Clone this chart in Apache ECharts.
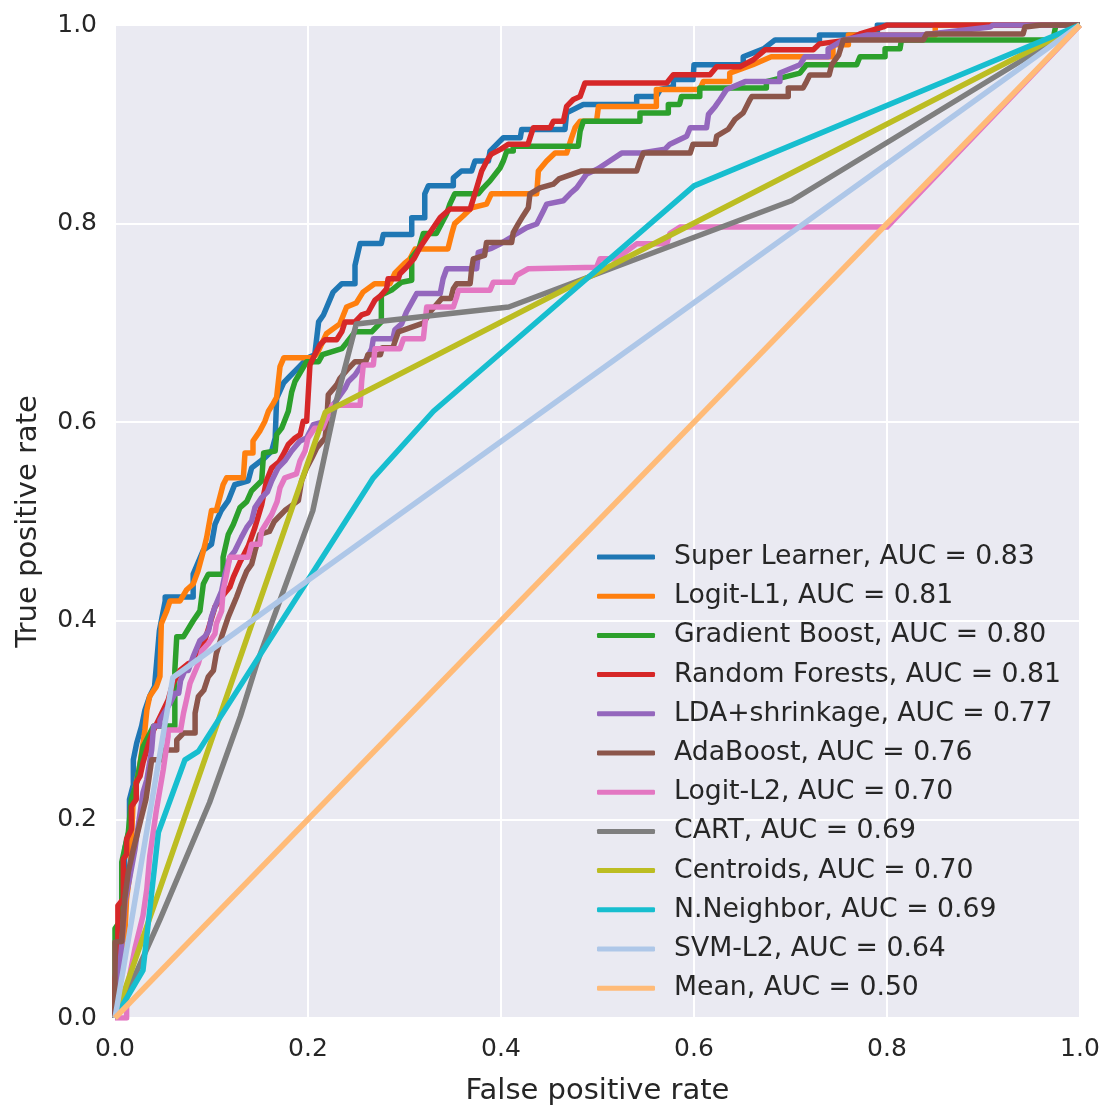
<!DOCTYPE html>
<html>
<head>
<meta charset="utf-8">
<script src="https://cdn.jsdelivr.net/npm/echarts@6/dist/echarts.min.js"></script>
<style>
html,body{margin:0;padding:0;background:#fff;}
#chart{width:1109px;height:1111px;}
</style>
</head>
<body>
<div id="chart"></div>
<script>
// ---- Data (FPR, TPR) ----
const seriesNames = [
  'Super Learner, AUC = 0.83','Logit-L1, AUC = 0.81','Gradient Boost, AUC = 0.80',
  'Random Forests, AUC = 0.81','LDA+shrinkage, AUC = 0.77','AdaBoost, AUC = 0.76',
  'Logit-L2, AUC = 0.70','CART, AUC = 0.69','Centroids, AUC = 0.70',
  'N.Neighbor, AUC = 0.69','SVM-L2, AUC = 0.64','Mean, AUC = 0.50'
];
const tickValues = [0, 0.2, 0.4, 0.6, 0.8, 1.0];

const superLearner = [[0,0],[0,0.03],[0.005,0.05],[0.005,0.1],[0.01,0.12],[0.01,0.17],[0.015,0.19],[0.015,0.22],[0.019,0.235],[0.019,0.26],[0.0225,0.277],[0.0276,0.294],[0.031,0.31],[0.036,0.324],[0.041,0.334],[0.046,0.39],[0.052,0.42],[0.052,0.424],[0.081,0.424],[0.081,0.447],[0.0915,0.471],[0.1,0.477],[0.1036,0.497],[0.11,0.511],[0.1174,0.521],[0.124,0.537],[0.138,0.541],[0.1416,0.554],[0.155,0.564],[0.1624,0.571],[0.166,0.584],[0.1675,0.624],[0.175,0.64],[0.18,0.645],[0.19,0.655],[0.2,0.665],[0.207,0.668],[0.211,0.701],[0.216,0.708],[0.226,0.731],[0.235,0.7395],[0.2487,0.7395],[0.2487,0.758],[0.254,0.78],[0.276,0.78],[0.278,0.789],[0.3075,0.789],[0.3075,0.806],[0.321,0.806],[0.321,0.83],[0.3247,0.838],[0.3506,0.838],[0.3506,0.846],[0.359,0.853],[0.3696,0.853],[0.373,0.863],[0.387,0.863],[0.3886,0.873],[0.4024,0.8865],[0.42,0.8865],[0.4214,0.8948],[0.4663,0.8948],[0.468,0.9115],[0.4853,0.92],[0.5406,0.92],[0.5406,0.928],[0.561,0.928],[0.565,0.935],[0.5786,0.938],[0.5786,0.945],[0.599,0.945],[0.6,0.96],[0.651,0.96],[0.651,0.968],[0.672,0.976],[0.684,0.985],[0.73,0.985],[0.73,0.99],[0.79,0.99],[0.79,1],[1,1]];

const logitL1 = [[0,0],[0.004,0.02],[0.006,0.06],[0.01,0.08],[0.012,0.12],[0.016,0.15],[0.018,0.2],[0.019,0.2234],[0.025,0.25],[0.031,0.29],[0.033,0.31],[0.036,0.324],[0.043,0.334],[0.0466,0.344],[0.048,0.397],[0.0536,0.41],[0.057,0.42],[0.0674,0.42],[0.074,0.431],[0.081,0.437],[0.086,0.45],[0.0915,0.47],[0.095,0.484],[0.1,0.511],[0.105,0.511],[0.112,0.537],[0.1157,0.544],[0.133,0.544],[0.1347,0.569],[0.143,0.569],[0.143,0.581],[0.15,0.591],[0.1554,0.601],[0.159,0.611],[0.164,0.619],[0.1675,0.625],[0.171,0.656],[0.175,0.665],[0.2055,0.665],[0.21,0.67],[0.219,0.689],[0.233,0.699],[0.24,0.716],[0.25,0.72],[0.257,0.731],[0.269,0.7395],[0.285,0.7395],[0.29,0.75],[0.3,0.76],[0.3057,0.7645],[0.311,0.7745],[0.345,0.7745],[0.349,0.79],[0.352,0.8],[0.361,0.808],[0.3696,0.816],[0.385,0.8196],[0.39,0.83],[0.437,0.83],[0.4387,0.853],[0.4473,0.863],[0.456,0.871],[0.468,0.871],[0.473,0.886],[0.4767,0.8965],[0.482,0.903],[0.499,0.903],[0.501,0.918],[0.561,0.918],[0.561,0.935],[0.606,0.935],[0.6096,0.943],[0.637,0.943],[0.637,0.9516],[0.661,0.96],[0.68,0.968],[0.744,0.968],[0.744,0.98],[0.76,0.98],[0.76,0.99],[0.85,0.99],[0.85,1],[1,1]];

const gradBoost = [[0,0],[0,0.09],[0.007,0.1],[0.007,0.157],[0.0138,0.187],[0.017,0.22],[0.0225,0.237],[0.029,0.273],[0.04,0.294],[0.062,0.294],[0.062,0.35],[0.064,0.384],[0.071,0.384],[0.081,0.4],[0.088,0.41],[0.0915,0.437],[0.0967,0.447],[0.112,0.447],[0.112,0.464],[0.1174,0.487],[0.1226,0.497],[0.1295,0.514],[0.1365,0.52],[0.1416,0.531],[0.152,0.541],[0.154,0.569],[0.166,0.571],[0.1675,0.5875],[0.1727,0.594],[0.1796,0.611],[0.183,0.63],[0.1865,0.641],[0.1986,0.661],[0.211,0.661],[0.215,0.668],[0.235,0.674],[0.24,0.68],[0.2487,0.691],[0.266,0.691],[0.276,0.701],[0.276,0.728],[0.2867,0.733],[0.297,0.741],[0.3075,0.743],[0.3075,0.766],[0.315,0.775],[0.3195,0.79],[0.333,0.79],[0.3437,0.81],[0.347,0.8196],[0.352,0.83],[0.3765,0.83],[0.3817,0.836],[0.3886,0.843],[0.399,0.856],[0.4024,0.863],[0.406,0.873],[0.4127,0.873],[0.4127,0.878],[0.48,0.878],[0.482,0.893],[0.4853,0.903],[0.544,0.903],[0.544,0.9115],[0.5734,0.9115],[0.5734,0.92],[0.585,0.92],[0.587,0.928],[0.606,0.928],[0.606,0.9365],[0.675,0.9365],[0.675,0.943],[0.7098,0.9516],[0.7166,0.96],[0.7686,0.96],[0.772,0.968],[0.798,0.968],[0.798,0.976],[0.8135,0.976],[0.815,0.985],[0.972,0.985],[0.975,1],[1,1]];

const randomForests = [[0,0],[0,0.04],[0.003,0.06],[0.003,0.113],[0.0086,0.12],[0.0086,0.16],[0.012,0.165],[0.012,0.18],[0.017,0.19],[0.017,0.213],[0.022,0.22],[0.022,0.237],[0.026,0.2435],[0.029,0.257],[0.033,0.27],[0.036,0.28],[0.04,0.29],[0.045,0.3],[0.05,0.31],[0.055,0.32],[0.06,0.337],[0.0674,0.35],[0.076,0.357],[0.085,0.36],[0.093,0.38],[0.0984,0.397],[0.1036,0.414],[0.1105,0.424],[0.119,0.434],[0.1226,0.444],[0.13,0.46],[0.138,0.475],[0.145,0.494],[0.152,0.517],[0.157,0.541],[0.1624,0.554],[0.17,0.56],[0.1744,0.5675],[0.1796,0.5775],[0.1865,0.584],[0.192,0.5875],[0.195,0.601],[0.1986,0.601],[0.2,0.624],[0.202,0.6576],[0.207,0.668],[0.2124,0.678],[0.2176,0.683],[0.2297,0.683],[0.235,0.691],[0.2383,0.701],[0.2487,0.701],[0.2556,0.708],[0.262,0.71],[0.2694,0.723],[0.276,0.728],[0.2815,0.7345],[0.283,0.7445],[0.2936,0.7445],[0.2953,0.7495],[0.302,0.756],[0.31,0.765],[0.316,0.776],[0.323,0.786],[0.33,0.796],[0.337,0.806],[0.347,0.8146],[0.368,0.8146],[0.3748,0.836],[0.38,0.853],[0.387,0.866],[0.39,0.87],[0.4,0.875],[0.4076,0.88],[0.428,0.88],[0.4335,0.8965],[0.451,0.8965],[0.4542,0.903],[0.4646,0.903],[0.468,0.918],[0.475,0.925],[0.482,0.928],[0.487,0.9416],[0.5717,0.9416],[0.5786,0.95],[0.6166,0.95],[0.6235,0.958],[0.6477,0.958],[0.6615,0.965],[0.6736,0.975],[0.7236,0.975],[0.73,0.981],[0.76,0.985],[0.772,0.991],[0.796,0.998],[0.8,1],[1,1]];

const ldaShrinkage = [[0,0],[0.005,0.05],[0.0104,0.117],[0.015,0.14],[0.0207,0.17],[0.024,0.193],[0.029,0.227],[0.033,0.24],[0.038,0.27],[0.04,0.294],[0.0466,0.294],[0.0466,0.3],[0.057,0.317],[0.0622,0.327],[0.066,0.327],[0.068,0.34],[0.0725,0.35],[0.076,0.35],[0.081,0.364],[0.088,0.38],[0.093,0.384],[0.097,0.39],[0.1,0.404],[0.1036,0.414],[0.1105,0.43],[0.114,0.447],[0.119,0.464],[0.124,0.47],[0.131,0.484],[0.1365,0.494],[0.1416,0.5007],[0.145,0.514],[0.152,0.524],[0.158,0.53],[0.1624,0.541],[0.169,0.554],[0.176,0.561],[0.183,0.571],[0.1917,0.581],[0.1986,0.584],[0.2055,0.5975],[0.215,0.6],[0.22,0.61],[0.228,0.62],[0.2383,0.634],[0.2418,0.641],[0.2487,0.6476],[0.2556,0.6576],[0.2608,0.664],[0.266,0.674],[0.2677,0.684],[0.288,0.684],[0.29,0.693],[0.297,0.699],[0.302,0.711],[0.3126,0.7295],[0.337,0.7295],[0.34,0.7445],[0.3437,0.7545],[0.3748,0.7545],[0.3765,0.771],[0.39,0.775],[0.4,0.78],[0.41,0.786],[0.4162,0.79],[0.4266,0.796],[0.437,0.7996],[0.444,0.813],[0.4473,0.8196],[0.4646,0.823],[0.4715,0.83],[0.4784,0.836],[0.4836,0.843],[0.4888,0.85],[0.5,0.855],[0.5095,0.861],[0.525,0.871],[0.544,0.871],[0.57,0.875],[0.575,0.88],[0.5924,0.888],[0.596,0.8965],[0.613,0.8965],[0.615,0.91],[0.622,0.918],[0.627,0.925],[0.6338,0.935],[0.653,0.943],[0.689,0.943],[0.689,0.9516],[0.7098,0.96],[0.715,0.968],[0.739,0.968],[0.739,0.976],[0.755,0.985],[0.78,0.99],[0.836,0.99],[0.907,0.998],[0.91,1],[1,1]];

const adaBoost = [[0,0],[0,0.0765],[0.007,0.077],[0.01,0.12],[0.0138,0.147],[0.019,0.17],[0.023,0.185],[0.0276,0.203],[0.032,0.22],[0.038,0.26],[0.05,0.26],[0.05,0.27],[0.064,0.27],[0.064,0.28],[0.071,0.287],[0.083,0.287],[0.083,0.307],[0.0864,0.3237],[0.092,0.33],[0.0967,0.3437],[0.102,0.35],[0.105,0.367],[0.1105,0.384],[0.1174,0.404],[0.126,0.424],[0.131,0.437],[0.1365,0.45],[0.1416,0.457],[0.145,0.47],[0.15,0.487],[0.16,0.49],[0.165,0.5],[0.169,0.504],[0.176,0.511],[0.19,0.521],[0.1934,0.541],[0.1986,0.554],[0.204,0.564],[0.209,0.574],[0.2176,0.584],[0.219,0.594],[0.221,0.6276],[0.2297,0.6376],[0.233,0.644],[0.2418,0.654],[0.2487,0.661],[0.26,0.661],[0.262,0.668],[0.275,0.668],[0.277,0.675],[0.288,0.675],[0.29,0.681],[0.2936,0.691],[0.32,0.7],[0.3264,0.711],[0.3385,0.7245],[0.348,0.7245],[0.3506,0.7345],[0.354,0.7395],[0.368,0.7395],[0.3696,0.7545],[0.3713,0.7645],[0.383,0.768],[0.385,0.781],[0.411,0.781],[0.4127,0.791],[0.418,0.8],[0.423,0.808],[0.4283,0.816],[0.43,0.83],[0.4404,0.836],[0.4542,0.8397],[0.46,0.845],[0.4836,0.853],[0.5406,0.853],[0.544,0.863],[0.5475,0.871],[0.596,0.871],[0.599,0.88],[0.622,0.88],[0.6235,0.888],[0.6355,0.895],[0.6425,0.905],[0.651,0.9115],[0.658,0.925],[0.66,0.928],[0.6977,0.928],[0.6977,0.9365],[0.713,0.9365],[0.7166,0.943],[0.72,0.9496],[0.74,0.9496],[0.7427,0.96],[0.75,0.97],[0.7547,0.985],[0.8377,0.985],[0.841,0.991],[0.941,0.991],[0.943,0.998],[0.96,1],[1,1]];

const logitL2 = [[0,0],[0.012,0],[0.012,0.02],[0.0138,0.036],[0.0207,0.07],[0.029,0.103],[0.033,0.13],[0.036,0.163],[0.04,0.19],[0.043,0.21],[0.05,0.25],[0.055,0.2836],[0.055,0.29],[0.068,0.29],[0.071,0.307],[0.074,0.32],[0.0777,0.337],[0.0864,0.357],[0.09,0.37],[0.0967,0.377],[0.1036,0.387],[0.105,0.397],[0.1105,0.41],[0.112,0.43],[0.1157,0.447],[0.119,0.464],[0.138,0.464],[0.1416,0.477],[0.15,0.477],[0.152,0.4907],[0.1624,0.507],[0.168,0.52],[0.171,0.534],[0.176,0.544],[0.188,0.548],[0.1917,0.561],[0.197,0.571],[0.2,0.584],[0.207,0.594],[0.215,0.594],[0.221,0.6075],[0.225,0.617],[0.254,0.617],[0.2556,0.641],[0.2573,0.6576],[0.2677,0.6576],[0.2694,0.674],[0.2953,0.674],[0.299,0.684],[0.3195,0.684],[0.323,0.716],[0.3506,0.716],[0.354,0.726],[0.356,0.733],[0.3886,0.733],[0.392,0.741],[0.4127,0.741],[0.4162,0.748],[0.4283,0.7545],[0.499,0.756],[0.5026,0.7645],[0.52,0.7645],[0.53,0.772],[0.5406,0.7796],[0.5717,0.7796],[0.575,0.79],[0.5855,0.7966],[0.8,0.7966],[1,1]];

const cart = [[0,0],[0.024,0.05],[0.047,0.1],[0.098,0.217],[0.13,0.304],[0.147,0.357],[0.205,0.511],[0.23,0.624],[0.25,0.699],[0.408,0.716],[0.701,0.823],[1,1]];
const centroids = [[0,0],[0.218,0.61],[1,1]];
const nNeighbor = [[0,0],[0.029,0.048],[0.045,0.187],[0.0725,0.26],[0.0864,0.2685],[0.2677,0.544],[0.33,0.611],[0.6,0.838],[1,1]];
const svmL2 = [[0,0],[0.06,0.343],[1,1]];
const meanCurve = [[0,0],[1,1]];

const curves = [superLearner, logitL1, gradBoost, randomForests, ldaShrinkage, adaBoost,
                logitL2, cart, centroids, nNeighbor, svmL2, meanCurve];
const colors = ['#1f77b4','#ff7f0e','#2ca02c','#d62728','#9467bd','#8c564b',
                '#e377c2','#7f7f7f','#bcbd22','#17becf','#aec7e8','#ffbb78'];

const FONT = "'DejaVu Sans', 'Liberation Sans', sans-serif";
const TXT = '#262626';

const chart = echarts.init(document.getElementById('chart'), null, {renderer: 'canvas'});

const axisCommon = {
  type: 'value', min: 0, max: 1, interval: 0.2,
  axisLine: {show: false}, axisTick: {show: false},
  splitLine: {show: true, lineStyle: {color: '#ffffff', width: 2}},
  axisLabel: {
    color: TXT, fontSize: 25, fontFamily: FONT,
    formatter: v => { const t = tickValues.find(x => Math.abs(x - v) < 1e-9); return (t === undefined ? v : t).toFixed(1); }
  },
  nameLocation: 'middle',
  nameTextStyle: {color: TXT, fontSize: 29, fontFamily: FONT}
};

chart.setOption({
  animation: false,
  backgroundColor: '#ffffff',
  color: colors,
  grid: {left: 115, top: 25, width: 965, height: 998, show: true, backgroundColor: '#EAEAF2', borderWidth: 0, containLabel: false},
  xAxis: Object.assign({}, axisCommon, {
    name: 'False positive rate', nameGap: 59,
    axisLabel: Object.assign({}, axisCommon.axisLabel, {margin: 19})
  }),
  yAxis: Object.assign({}, axisCommon, {
    name: 'True positive rate', nameGap: 72,
    axisLabel: Object.assign({}, axisCommon.axisLabel, {margin: 18})
  }),
  legend: {
    orient: 'vertical', left: 592, top: 537,
    icon: 'roundRect', itemWidth: 58, itemHeight: 5, itemGap: 9.2,
    textStyle: {color: TXT, fontSize: 26.7, fontFamily: FONT, lineHeight: 30, padding: [0, 0, 0, 14]},
    data: seriesNames
  },
  series: curves.map((d, i) => ({
    name: seriesNames[i], type: 'line', data: d, showSymbol: false, symbol: 'none',
    clip: true, z: 2 + i,
    lineStyle: {width: 5.5, color: colors[i], join: 'round', cap: 'butt'},
    itemStyle: {color: colors[i]},
    emphasis: {disabled: true}
  }))
});
</script>
</body>
</html>
